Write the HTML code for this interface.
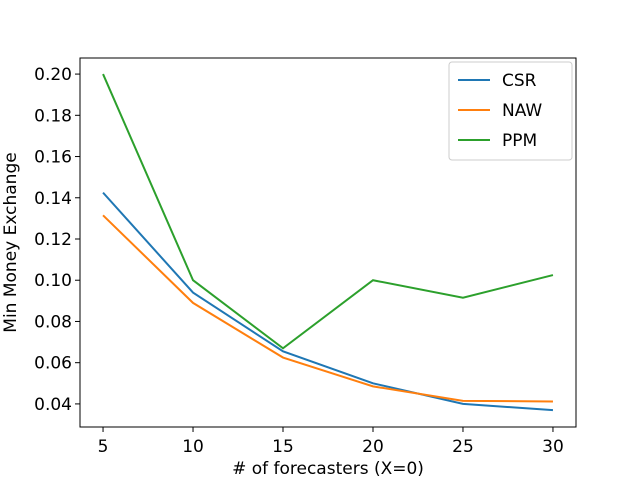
<!DOCTYPE html>
<html><head><meta charset="utf-8"><style>
body{margin:0;background:#fff}
svg text{font-family:"DejaVu Sans","Liberation Sans",sans-serif;fill:#000}
</style></head><body>
<svg id="chart" width="640" height="480"></svg>
<script>
const categories=[5,10,15,20,25,30];
const csr=[0.1425,0.094,0.0655,0.050,0.040,0.037];
const naw=[0.1315,0.089,0.0625,0.0485,0.0415,0.0412];
const ppm=[0.200,0.100,0.067,0.100,0.0915,0.1025];
const xTicks=[5,10,15,20,25,30];
const yTicks=[0.04,0.06,0.08,0.10,0.12,0.14,0.16,0.18,0.20];
const L=80,R=576,T=58,B=427,xmin=3.72,xmax=31.28,ymin=0.0288,ymax=0.2078;
const sx=v=>L+(v-xmin)/(xmax-xmin)*(R-L);
const sy=v=>B-(v-ymin)/(ymax-ymin)*(B-T);
const svg=document.getElementById('chart');
const NS='http://www.w3.org/2000/svg';
function mk(t,a,txt){const e=document.createElementNS(NS,t);for(const k in a)e.setAttribute(k,a[k]);if(txt!==undefined)e.textContent=txt;svg.appendChild(e);return e;}
const series=[[csr,'#1f77b4','CSR'],[naw,'#ff7f0e','NAW'],[ppm,'#2ca02c','PPM']];
series.forEach(([d,c,n])=>{
 const p=mk('polyline',{points:d.map((v,i)=>sx(categories[i])+','+sy(v)).join(' '),fill:'none',stroke:c,'stroke-width':2});
 
 
});
const frame=mk('rect',{x:L,y:T,width:R-L,height:B-T,fill:'none',stroke:'#000','stroke-width':1});


xTicks.forEach(t=>{
 mk('line',{x1:sx(t),x2:sx(t),y1:B,y2:B+5,stroke:'#000'});
 const e=mk('text',{x:sx(t),y:B+25,'text-anchor':'middle','font-size':17},String(t));
 
 
});
yTicks.forEach(t=>{
 mk('line',{x1:L-5,x2:L,y1:sy(t),y2:sy(t),stroke:'#000'});
 const e=mk('text',{x:L-8,y:sy(t)+6,'text-anchor':'end','font-size':17},t.toFixed(2));
 
 
});
const xt=mk('text',{x:(L+R)/2,y:474,'text-anchor':'middle','font-size':17},'# of forecasters (X=0)');


const yt=mk('text',{x:16,y:(T+B)/2,'text-anchor':'middle','font-size':17,transform:'rotate(-90 16 '+((T+B)/2)+')'},'Min Money Exchange');


const lg=mk('rect',{x:449,y:62,width:123,height:98,rx:3,fill:'#fff',stroke:'#ccc'});


series.forEach(([d,c,n],i)=>{
 const y=80+i*30;
 mk('line',{x1:458,x2:490,y1:y,y2:y,stroke:c,'stroke-width':2});
 const e=mk('text',{x:502,y:y+6,'font-size':17},n);
 
 
});
</script>
</body></html>
